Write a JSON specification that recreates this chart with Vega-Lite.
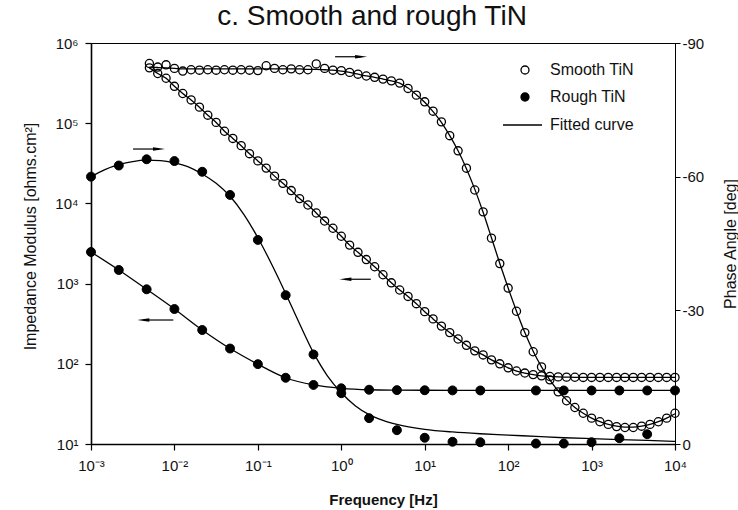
{
  "$schema": "https://vega.github.io/schema/vega-lite/v6.json",
  "width": 584,
  "height": 401,
  "autosize": {"type": "none"},
  "padding": {"left": 91, "top": 43, "right": 63, "bottom": 66},
  "background": "white",
  "title": {"text": "c. Smooth and rough TiN", "fontSize": 28, "font": "Liberation Sans", "fontWeight": "normal", "color": "#111", "anchor": "middle", "offset": 5, "dx": -11},
  "config": {
    "view": {"stroke": "black", "strokeWidth": 1},
    "font": "Liberation Sans",
    "axis": {"grid": false, "domainColor": "black", "tickColor": "black", "labelColor": "#111", "titleColor": "#111", "labelFont": "Liberation Sans", "titleFont": "Liberation Sans", "labelFontSize": 15, "titleFontSize": 16, "titleFontWeight": "normal", "labelFlush": false, "labelOverlap": false, "labelBound": false}
  },
  "datasets": {
    "smooth": [
      {"f": 0.005012, "z": 489800, "p": -85.4, "pf": -84.6},
      {"f": 0.00631, "z": 416900, "p": -84.6, "pf": -84.5},
      {"f": 0.007943, "z": 363100, "p": -85.1, "pf": -84.4},
      {"f": 0.01, "z": 288400, "p": -84.3, "pf": -84.3},
      {"f": 0.01259, "z": 234400, "p": -83.7, "pf": -84.2},
      {"f": 0.01585, "z": 195000, "p": -84.0, "pf": -84.2},
      {"f": 0.01995, "z": 158500, "p": -83.9, "pf": -84.2},
      {"f": 0.02512, "z": 125900, "p": -84.0, "pf": -84.2},
      {"f": 0.03162, "z": 102300, "p": -83.9, "pf": -84.2},
      {"f": 0.03981, "z": 79430, "p": -84.0, "pf": -84.2},
      {"f": 0.05012, "z": 64570, "p": -83.9, "pf": -84.2},
      {"f": 0.0631, "z": 52480, "p": -84.0, "pf": -84.2},
      {"f": 0.07943, "z": 41690, "p": -83.9, "pf": -84.2},
      {"f": 0.1, "z": 33880, "p": -83.8, "pf": -84.2},
      {"f": 0.1259, "z": 27540, "p": -84.9, "pf": -84.2},
      {"f": 0.1585, "z": 21880, "p": -84.3, "pf": -84.2},
      {"f": 0.1995, "z": 17780, "p": -84.0, "pf": -84.2},
      {"f": 0.2512, "z": 14450, "p": -84.2, "pf": -84.2},
      {"f": 0.3162, "z": 11480, "p": -84.0, "pf": -84.2},
      {"f": 0.3981, "z": 9550, "p": -84.0, "pf": -84.1},
      {"f": 0.5012, "z": 7586, "p": -85.3, "pf": -84.1},
      {"f": 0.631, "z": 6026, "p": -84.3, "pf": -84.0},
      {"f": 0.7943, "z": 4898, "p": -83.9, "pf": -83.9},
      {"f": 1, "z": 3890, "p": -83.8, "pf": -83.7},
      {"f": 1.259, "z": 3020, "p": -83.4, "pf": -83.4},
      {"f": 1.585, "z": 2455, "p": -83.0, "pf": -83.0},
      {"f": 1.995, "z": 1995, "p": -82.6, "pf": -82.6},
      {"f": 2.512, "z": 1622, "p": -82.3, "pf": -82.3},
      {"f": 3.162, "z": 1288, "p": -81.9, "pf": -81.9},
      {"f": 3.981, "z": 1023, "p": -81.5, "pf": -81.5},
      {"f": 5.012, "z": 832, "p": -81.0, "pf": -81.0},
      {"f": 6.31, "z": 692, "p": -79.8, "pf": -79.9},
      {"f": 7.943, "z": 562, "p": -78.3, "pf": -78.4},
      {"f": 10, "z": 447, "p": -76.8, "pf": -76.7},
      {"f": 12.59, "z": 363, "p": -74.7, "pf": -74.6},
      {"f": 15.85, "z": 295, "p": -72.3, "pf": -72.2},
      {"f": 19.95, "z": 245, "p": -69.2, "pf": -69.2},
      {"f": 25.12, "z": 204, "p": -65.8, "pf": -65.8},
      {"f": 31.62, "z": 170, "p": -61.9, "pf": -61.8},
      {"f": 39.81, "z": 145, "p": -57.0, "pf": -57.2},
      {"f": 50.12, "z": 129, "p": -52.1, "pf": -52.0},
      {"f": 63.1, "z": 112, "p": -46.2, "pf": -46.3},
      {"f": 79.43, "z": 100, "p": -40.5, "pf": -40.5},
      {"f": 100, "z": 89.1, "p": -35.0, "pf": -35.0},
      {"f": 125.9, "z": 81.3, "p": -29.8, "pf": -29.8},
      {"f": 158.5, "z": 76.7, "p": -25.0, "pf": -25.0},
      {"f": 199.5, "z": 73.3, "p": -20.7, "pf": -20.8},
      {"f": 251.2, "z": 70.8, "p": -17.3, "pf": -17.3},
      {"f": 316.2, "z": 69.5, "p": -14.4, "pf": -14.4},
      {"f": 398.1, "z": 68.7, "p": -11.7, "pf": -11.9},
      {"f": 501.2, "z": 68.2, "p": -9.7, "pf": -9.9},
      {"f": 631, "z": 67.9, "p": -8.2, "pf": -8.2},
      {"f": 794.3, "z": 67.6, "p": -6.9, "pf": -6.9},
      {"f": 1000, "z": 67.6, "p": -5.8, "pf": -5.8},
      {"f": 1259, "z": 67.6, "p": -5.0, "pf": -5.0},
      {"f": 1585, "z": 67.6, "p": -4.4, "pf": -4.4},
      {"f": 1995, "z": 67.6, "p": -3.9, "pf": -4.0},
      {"f": 2512, "z": 67.6, "p": -3.7, "pf": -3.8},
      {"f": 3162, "z": 67.6, "p": -3.7, "pf": -3.8},
      {"f": 3981, "z": 67.6, "p": -4.0, "pf": -4.0},
      {"f": 5012, "z": 67.6, "p": -4.4, "pf": -4.4},
      {"f": 6310, "z": 67.6, "p": -5.0, "pf": -5.0},
      {"f": 7943, "z": 67.6, "p": -5.8, "pf": -5.8},
      {"f": 10000, "z": 67.6, "p": -6.9, "pf": -6.8}
    ],
    "rough": [
      {"f": 0.001, "z": 2478, "p": -60.0},
      {"f": 0.002154, "z": 1479, "p": -62.5},
      {"f": 0.004642, "z": 849, "p": -63.9},
      {"f": 0.01, "z": 482, "p": -63.5},
      {"f": 0.02154, "z": 264, "p": -61.1},
      {"f": 0.04642, "z": 155, "p": -55.9},
      {"f": 0.1, "z": 99, "p": -45.8},
      {"f": 0.2154, "z": 67, "p": -33.4},
      {"f": 0.4642, "z": 54.5, "p": -20.1},
      {"f": 1, "z": 49.5, "p": -11.4},
      {"f": 2.154, "z": 47.5, "p": -5.8},
      {"f": 4.642, "z": 47, "p": -3.1},
      {"f": 10, "z": 46.8, "p": -1.4},
      {"f": 21.54, "z": 46.6, "p": -0.5},
      {"f": 46.42, "z": 46.5, "p": -0.4},
      {"f": 215.4, "z": 46.5, "p": -0.1},
      {"f": 464.2, "z": 46.5, "p": -0.1},
      {"f": 1000, "z": 46.5, "p": -0.4},
      {"f": 2154, "z": 46.5, "p": -1.3},
      {"f": 4642, "z": 46.5, "p": -2.2},
      {"f": 10000, "z": 46.5, "p": null}
    ],
    "roughfit": [
      {"f": 0.001, "p": -60.0}, {"f": 0.001468, "p": -61.6}, {"f": 0.002154, "p": -62.7},
      {"f": 0.003162, "p": -63.4}, {"f": 0.004642, "p": -63.7}, {"f": 0.006813, "p": -63.6},
      {"f": 0.01, "p": -63.1}, {"f": 0.01468, "p": -62.2}, {"f": 0.02154, "p": -60.6},
      {"f": 0.03162, "p": -58.5}, {"f": 0.04642, "p": -55.6}, {"f": 0.06813, "p": -51.5},
      {"f": 0.1, "p": -46.3}, {"f": 0.1468, "p": -40.3}, {"f": 0.2154, "p": -33.8},
      {"f": 0.3162, "p": -27.0}, {"f": 0.4642, "p": -20.5}, {"f": 0.6813, "p": -15.3},
      {"f": 1, "p": -11.5}, {"f": 1.468, "p": -8.6}, {"f": 2.154, "p": -6.6},
      {"f": 3.162, "p": -5.3}, {"f": 4.642, "p": -4.4}, {"f": 10, "p": -3.3},
      {"f": 21.54, "p": -2.7}, {"f": 46.42, "p": -2.3}, {"f": 100, "p": -2.0},
      {"f": 215.4, "p": -1.7}, {"f": 464.2, "p": -1.4}, {"f": 1000, "p": -1.2},
      {"f": 2154, "p": -1.0}, {"f": 4642, "p": -0.8}, {"f": 10000, "p": -0.6}
    ],
    "arrows": [
      {"f": 0.843, "f2": 1.727, "fh": 1.727, "z": 674000, "dir": "r"},
      {"f": 0.00319, "f2": 0.00653, "fh": 0.00653, "z": 47640, "dir": "r"},
      {"f": 1.12, "f2": 2.26, "fh": 1.12, "z": 1133, "dir": "l"},
      {"f": 0.004236, "f2": 0.0097, "fh": 0.004236, "z": 351.6, "dir": "l"}
    ]
  },
  "encoding": {
    "x": {
      "field": "f", "type": "quantitative",
      "scale": {"type": "log", "domain": [0.001, 10000]},
      "axis": {
        "values": [0.001, 0.01, 0.1, 1, 10, 100, 1000, 10000],
        "labelExpr": "'10' + (round(log(datum.value)/LN10) < 0 ? '⁻' : '') + substring('⁰¹²³⁴⁵⁶⁷⁸⁹', abs(round(log(datum.value)/LN10)), abs(round(log(datum.value)/LN10)) + 1)",
        "title": "Frequency [Hz]", "titleFontWeight": "bold", "titleFontSize": 15,
        "titleY": 55, "titleBaseline": "middle",
        "tickSize": 6, "tickWidth": 1.2, "domainWidth": 1.6, "labelPadding": 8
      }
    }
  },
  "layer": [
    {
      "encoding": {
        "y": {
          "field": "z", "type": "quantitative",
          "scale": {"type": "log", "domain": [10, 1000000]},
          "axis": {
            "orient": "left",
            "values": [10, 100, 1000, 10000, 100000, 1000000],
            "labelExpr": "'10' + (round(log(datum.value)/LN10) < 0 ? '⁻' : '') + substring('⁰¹²³⁴⁵⁶⁷⁸⁹', abs(round(log(datum.value)/LN10)), abs(round(log(datum.value)/LN10)) + 1)",
            "title": "Impedance Modulus [ohms.cm²]",
            "titleX": -61, "titleY": 193, "titleAngle": 270, "titleBaseline": "middle", "titleAlign": "center",
            "tickSize": 6, "tickWidth": 1.2, "domainWidth": 1.6, "labelPadding": 7
          }
        }
      },
      "layer": [
        {"data": {"name": "smooth"}, "mark": {"type": "line", "interpolate": "monotone", "strokeWidth": 1.3},
         "encoding": {"stroke": {"datum": "Fitted curve", "type": "nominal", "scale": {"domain": ["Fitted curve"], "range": ["black"]},
           "legend": {"orient": "none", "legendX": 411, "legendY": 68.5, "title": null, "symbolType": "stroke", "symbolSize": 1521, "symbolStrokeWidth": 1.3, "labelOffset": 7, "labelFontSize": 16, "labelFont": "Liberation Sans", "labelColor": "#111", "clipHeight": 27, "padding": 0}}}},
        {"data": {"name": "rough"}, "mark": {"type": "line", "interpolate": "monotone", "strokeWidth": 1.3},
         "encoding": {"stroke": {"datum": "Fitted curve", "type": "nominal"}}},
        {"data": {"name": "smooth"}, "mark": {"type": "point", "shape": "circle", "filled": true, "size": 66, "stroke": "black", "strokeWidth": 1.3, "opacity": 1},
         "encoding": {"fill": {"datum": "Smooth TiN", "type": "nominal", "scale": {"domain": ["Smooth TiN", "Rough TiN"], "range": ["transparent", "black"]},
           "legend": {"orient": "none", "legendX": 426, "legendY": 13.5, "title": null, "symbolType": "circle", "symbolSize": 64, "symbolStrokeColor": "black", "symbolStrokeWidth": 1.3, "symbolOpacity": 1, "labelOffset": 17, "labelFontSize": 16, "labelFont": "Liberation Sans", "labelColor": "#111", "clipHeight": 27, "rowPadding": 0, "padding": 0}}}},
        {"data": {"name": "rough"}, "mark": {"type": "point", "shape": "circle", "filled": true, "size": 80, "stroke": "black", "strokeWidth": 1, "opacity": 1},
         "encoding": {"fill": {"datum": "Rough TiN", "type": "nominal"}}},
        {"data": {"name": "arrows"}, "mark": {"type": "rule", "strokeWidth": 1.2, "color": "black"},
         "encoding": {"x2": {"field": "f2"}}},
        {"data": {"name": "arrows"}, "mark": {"type": "point", "filled": true, "size": 144, "color": "black", "opacity": 1},
         "encoding": {"x": {"field": "fh", "type": "quantitative"},
           "shape": {"field": "dir", "type": "nominal", "scale": {"domain": ["r", "l"], "range": ["M-1,-0.28L1,0L-1,0.28Z", "M1,-0.28L-1,0L1,0.28Z"]}, "legend": null}}}
      ]
    },
    {
      "encoding": {
        "y": {
          "field": "p", "type": "quantitative",
          "scale": {"domain": [0, -90]},
          "axis": {
            "orient": "right",
            "values": [0, -30, -60, -90],
            "labelExpr": "'' + datum.value",
            "title": "Phase Angle [deg]",
            "titleX": 55, "titleY": 200.5, "titleAngle": 270, "titleBaseline": "middle", "titleAlign": "center",
            "tickSize": 5, "tickWidth": 1, "domainWidth": 1, "labelPadding": 2
          }
        }
      },
      "layer": [
        {"data": {"name": "smooth"}, "mark": {"type": "line", "interpolate": "monotone", "strokeWidth": 1.3},
         "encoding": {"y": {"field": "pf", "type": "quantitative", "title": "Phase Angle [deg]"}, "stroke": {"datum": "Fitted curve", "type": "nominal"}}},
        {"data": {"name": "roughfit"}, "mark": {"type": "line", "interpolate": "monotone", "strokeWidth": 1.3},
         "encoding": {"stroke": {"datum": "Fitted curve", "type": "nominal"}}},
        {"data": {"name": "smooth"}, "mark": {"type": "point", "shape": "circle", "filled": true, "size": 66, "stroke": "black", "strokeWidth": 1.3, "opacity": 1},
         "encoding": {"fill": {"datum": "Smooth TiN", "type": "nominal"}}},
        {"data": {"name": "rough"}, "mark": {"type": "point", "shape": "circle", "filled": true, "size": 80, "stroke": "black", "strokeWidth": 1, "opacity": 1},
         "encoding": {"fill": {"datum": "Rough TiN", "type": "nominal"}}}
      ]
    }
  ],
  "resolve": {"scale": {"y": "independent"}, "axis": {"y": "independent"}}
}
